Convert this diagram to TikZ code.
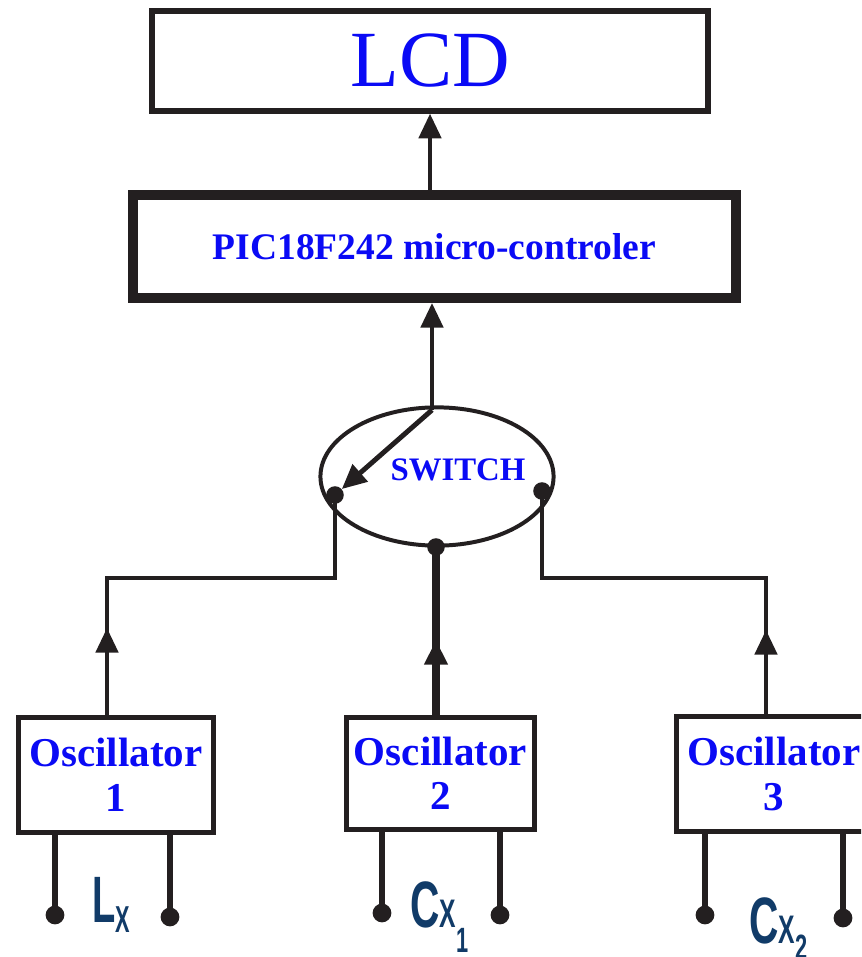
\documentclass[tikz,border=0pt]{standalone}
\usepackage{fontspec}
\setmainfont{Liberation Serif}
\setsansfont{Liberation Sans}
\usepackage{graphicx}
\usetikzlibrary{arrows.meta,positioning,shapes.geometric}
\definecolor{txtblue}{HTML}{0A0AF5}
\definecolor{navy}{HTML}{113B68}
\definecolor{ink}{HTML}{231F20}
\tikzset{
  box/.style={draw=ink, fill=white, inner sep=0pt, text=txtblue, align=center},
  wire/.style={draw=ink, line width=3.4pt},
  lead/.style={draw=ink, line width=4.4pt},
  arr/.style={-{Triangle[length=21pt,width=19pt]}},
  dot/.style={circle, fill=ink, inner sep=0pt, minimum size=15pt},
  compname/.style={text=navy, font=\sffamily\bfseries, inner sep=0pt, anchor=base west}
}

\begin{document}
\begin{tikzpicture}[x=0.03cm, y=-0.03cm]
    \useasboundingbox (0,0) rectangle (861,957);
    \clip (0,0) rectangle (861,957);
    \node[box, line width=5pt, minimum width=474pt, minimum height=85pt,
          font=\fontsize{68}{68}\selectfont] (lcd) at (430,61) {LCD};
    \node[box, line width=8.5pt, minimum width=514pt, minimum height=88pt,
          font=\bfseries\fontsize{32}{32}\selectfont] (pic) at (434.5,246.5) {PIC18F242 micro-controler};
    \node[draw=ink, ellipse, line width=3.4pt, minimum width=199pt, minimum height=118pt] (sw) at (437,476.5) {};
    \node[text=txtblue, font=\bfseries\fontsize{28}{28}\selectfont] (swlabel) at (458,470) {SWITCH};
    \foreach \n/\cx/\cy/\w/\h in {
      1/116/775/167/98,
      2/440.5/773.5/161/95,
      3/774/774/167/98}{
      \node[box, line width=4.2pt, minimum width=\w pt, minimum height=\h pt,
            font=\bfseries\fontsize{35}{38}\selectfont] (osc\n) at (\cx,\cy) {Oscillator\\\n};
    }
    \draw[wire, arr] (pic.north -| lcd.south) -- (lcd.south);
    % switch contacts
    \node[dot] (dl) at (335,495) {};
    \node[dot] (dr) at (542,491) {};
    \node[dot] (dm) at (436,547) {};
    \coordinate (pv) at (432,410);
    \draw[wire, arr] (pv) -- (pv |- pic.south);
    \draw[wire, line width=4.2pt, arr] (pv) -- (dl);
    % oscillators to switch
    \coordinate (bl) at (107,578);
    \coordinate (br) at (766,578);
    \coordinate (al) at (107,628);
    \coordinate (ar) at (766,630);
    \coordinate (am) at (436,640);
    \draw[wire] (osc1.north -| bl) -- (bl) -| (dl.center);
    \draw[wire, arr] (osc1.north -| bl) -- (al);
    \draw[wire] (osc3.north -| br) -- (br) -| (dr.center);
    \draw[wire, arr] (osc3.north -| br) -- (ar);
    \draw[wire, line width=6pt] (osc2.north -| dm) -- (dm.center);
    \draw[wire, line width=6pt, arr] (osc2.north -| dm) -- (am);
    % leads
    \foreach \n/\xa/\ya/\xb/\yb in {1/55/915/170/917, 2/382/913/500/915, 3/705/915/843/918}{
      \node[dot, minimum size=16pt] (pa\n) at (\xa,\ya) {};
      \node[dot, minimum size=16pt] (pb\n) at (\xb,\yb) {};
      \draw[lead] (osc\n.south -| pa\n) -- (pa\n.center);
      \draw[lead] (osc\n.south -| pb\n) -- (pb\n.center);
    }
    \node[compname] (lx) at (92,922) {\scalebox{0.58}[1]{\fontsize{56}{56}\selectfont L\raisebox{-9pt}{\fontsize{32}{32}\selectfont X}}};
    \node[compname] (cx1) at (410,927) {\scalebox{0.62}[1]{\fontsize{56}{56}\selectfont C\fontsize{34}{34}\selectfont X\raisebox{-22pt}{\fontsize{30}{30}\selectfont 1}}};
    \node[compname] (cx2) at (749,943) {\scalebox{0.62}[1]{\fontsize{56}{56}\selectfont C\fontsize{34}{34}\selectfont X\raisebox{-14pt}{\fontsize{30}{30}\selectfont 2}}};
\end{tikzpicture}
\end{document}
